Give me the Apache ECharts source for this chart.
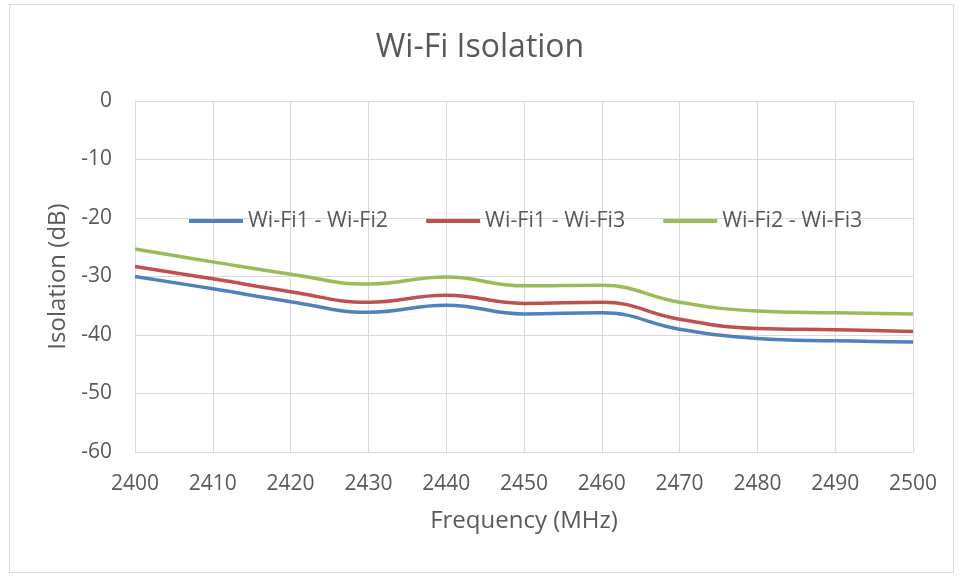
<!DOCTYPE html>
<html>
<head>
<meta charset="utf-8">
<script src="https://cdn.jsdelivr.net/npm/echarts@6/dist/echarts.min.js"></script>
<style>html,body{margin:0;padding:0;background:#fff;}#c{width:960px;height:577px;}</style>
</head>
<body>
<div id="c"></div>
<script>
const frequencies = [2400, 2410, 2420, 2430, 2440, 2450, 2460, 2470, 2480, 2490, 2500];
const wifi12 = [-30.0, -32.1, -34.3, -36.1, -34.9, -36.4, -36.2, -39.0, -40.6, -41.0, -41.2];
const wifi13 = [-28.3, -30.4, -32.6, -34.4, -33.2, -34.6, -34.4, -37.3, -38.9, -39.1, -39.4];
const wifi23 = [-25.3, -27.5, -29.6, -31.3, -30.1, -31.6, -31.5, -34.4, -35.9, -36.2, -36.4];
const seriesNames = ['Wi-Fi1 - Wi-Fi2', 'Wi-Fi1 - Wi-Fi3', 'Wi-Fi2 - Wi-Fi3'];
const yTicks = { min: -60, max: 0, step: 10 };
const xTicks = { min: 2400, max: 2500, step: 10 };

const colors = ['#4f81bd', '#c0504d', '#9bbb59'];
const FONT = 'Open Sans';
const TXT = '#595959';
const GRIDC = '#d9d9d9';

function pairs(vals) { return frequencies.map((f, i) => [f, vals[i]]); }

const chart = echarts.init(document.getElementById('c'), null, { renderer: 'canvas' });
chart.setOption({
  animation: false,
  backgroundColor: '#fff',
  color: colors,
  graphic: [{
    type: 'rect', left: 7, top: 2, silent: true, z: -10,
    shape: { width: 944, height: 568 },
    style: { fill: 'none', stroke: GRIDC, lineWidth: 1 }
  }],
  title: {
    text: 'Wi-Fi Isolation', left: 'center', top: 27,
    textStyle: { fontFamily: FONT, fontSize: 32, fontWeight: 'normal', color: TXT }
  },
  legend: {
    left: 184, top: 205, itemWidth: 54, itemHeight: 4, itemGap: 38, icon: 'rect',
    textStyle: { fontFamily: FONT, fontSize: 21.5, color: TXT },
    data: seriesNames
  },
  grid: { left: 135, right: 47, top: 101, bottom: 125 },
  xAxis: {
    type: 'value', min: xTicks.min, max: xTicks.max, interval: xTicks.step,
    name: 'Frequency (MHz)', nameLocation: 'middle', nameGap: 57,
    nameTextStyle: { fontFamily: FONT, fontSize: 24, color: TXT },
    axisLine: { show: true, lineStyle: { color: GRIDC, width: 1 } },
    axisTick: { show: false },
    axisLabel: { fontFamily: FONT, fontSize: 21, color: TXT, margin: 22, formatter: v => String(v) },
    splitLine: { show: true, lineStyle: { color: GRIDC, width: 1 } }
  },
  yAxis: {
    type: 'value', min: yTicks.min, max: yTicks.max, interval: yTicks.step,
    name: 'Isolation (dB)', nameLocation: 'middle', nameGap: 64, nameRotate: 90,
    nameTextStyle: { fontFamily: FONT, fontSize: 24, color: TXT },
    axisLine: { show: true, lineStyle: { color: GRIDC, width: 1 } },
    axisTick: { show: false },
    axisLabel: { fontFamily: FONT, fontSize: 21, color: TXT, margin: 23 },
    splitLine: { show: true, lineStyle: { color: GRIDC, width: 1 } }
  },
  series: [wifi12, wifi13, wifi23].map((vals, i) => ({
    type: 'line', name: seriesNames[i], data: pairs(vals),
    smooth: 0.45, showSymbol: false, symbol: 'none',
    lineStyle: { width: 3.5, color: colors[i] },
    itemStyle: { color: colors[i] }
  }))
});
</script>
</body>
</html>
